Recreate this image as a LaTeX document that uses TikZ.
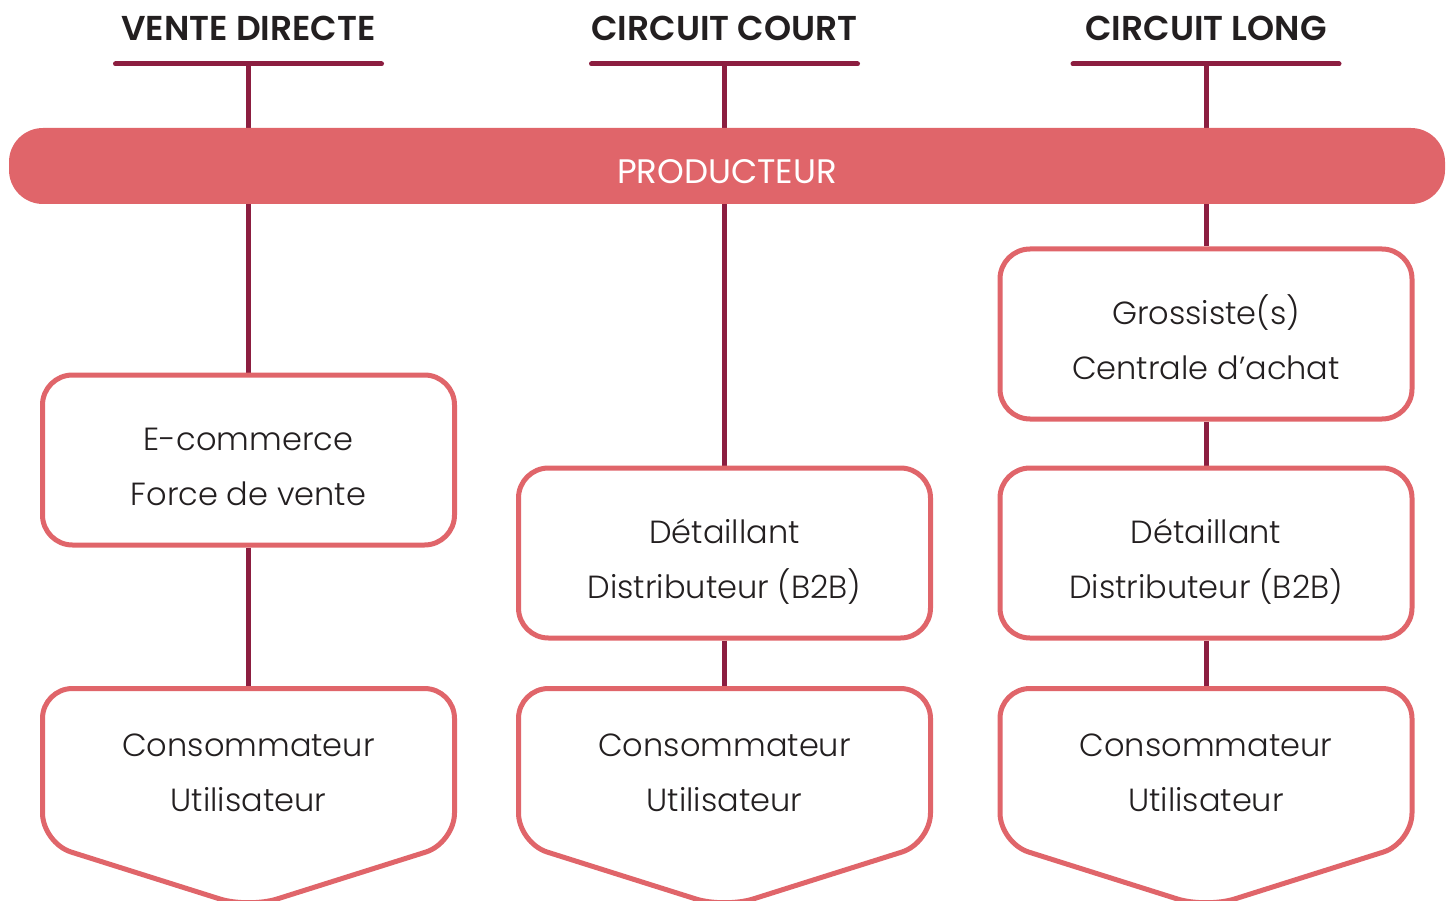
\documentclass[tikz,border=0pt]{standalone}
\usepackage{fontspec}
\setmainfont{Poppins}[UprightFont=* Light, BoldFont=* SemiBold]
\newfontfamily\barfont{Poppins}
\usetikzlibrary{backgrounds,calc}

\definecolor{coral}{HTML}{E0656A}
\definecolor{wine}{HTML}{8C1E40}
\definecolor{ink}{HTML}{231F20}

% even line metrics for every two-line label
\newcommand{\evenline}{\vphantom{(É}}

\tikzset{
  header/.style={font=\fontsize{34.5}{40}\selectfont\bfseries, text=ink, inner sep=0pt},
  rule/.style={wine, line width=5pt, line cap=round},
  link/.style={wine, line width=5pt},
  stage/.style={draw=coral, line width=5pt, fill=white, rounded corners=30pt,
    minimum width=412pt, minimum height=170pt},
  stagetext/.style={align=center, inner sep=0pt,
    font=\fontsize{32}{55}\selectfont, text=ink},
  bar/.style={fill=coral, rounded corners=34pt, minimum width=1436pt,
    minimum height=76pt},
  bartext/.style={text=white, inner sep=0pt, font=\barfont\fontsize{34}{40}\selectfont},
  endbox/.style={draw=coral, line width=5pt, fill=white, rounded corners=30pt},
}

\begin{document}
\begin{tikzpicture}[x=1pt, y=-1pt]
  \useasboundingbox (0,0) rectangle (1453,901);
  \clip (0,0) rectangle (1453,901);

  % channel headings with their rules
  \node[header] (h1) at (248.5,28) {VENTE DIRECTE};
  \node[header] (h2) at (724.5,28) {CIRCUIT COURT};
  \node[header] (h3) at (1206,28) {CIRCUIT LONG};
  \coordinate (r1) at (248.5,64);
  \coordinate (r2) at (724.5,64);
  \coordinate (r3) at (1206,64);
  \foreach \r in {r1,r2,r3}
    \draw[rule] ($(\r)+(-133,0)$) -- ($(\r)+(133,0)$);

  % producer bar
  \node[bar] (prod) at (727,166) {};
  \node[bartext] (prodtxt) at ($(prod)+(0,6)$) {PRODUCTEUR};

  % intermediary stages
  \node[stage] (ecom) at (248.5,460) {};
  \node[stage] (det2) at (724.5,553) {};
  \node[stage] (gros) at (1206,334) {};
  \node[stage] (det3) at (1206,553) {};
  \node[stagetext] (ecomtxt) at ($(ecom)+(0,6)$)
    {\evenline E-commerce\\\evenline Force de vente};
  \node[stagetext] (det2txt) at ($(det2)+(0,6)$)
    {\evenline Détaillant\\\evenline Distributeur (B2B)};
  \node[stagetext] (grostxt) at ($(gros)+(0,6)$)
    {\evenline Grossiste(s)\\\evenline Centrale d’achat};
  \node[stagetext] (det3txt) at ($(det3)+(0,6)$)
    {\evenline Détaillant\\\evenline Distributeur (B2B)};

  % end customers: downward pointing boxes
  \foreach \cx/\n in {248.5/c1, 724.5/c2, 1206/c3} {
    \coordinate (\n top) at (\cx,688.5);
    \draw[endbox] (\cx,688.5) -- (\cx+206,688.5) -- (\cx+206,843)
      -- (\cx,908) -- (\cx-206,843) -- (\cx-206,688.5) -- cycle;
    \node[stagetext] (\n) at (\cx,772)
      {\evenline Consommateur\\\evenline Utilisateur};
  }

  % connectors behind everything
  \begin{scope}[on background layer]
    \draw[link] (r1) -- (ecom.north);
    \draw[link] (ecom.south) -- (c1top);
    \draw[link] (r2) -- (det2.north);
    \draw[link] (det2.south) -- (c2top);
    \draw[link] (r3) -- (gros.north);
    \draw[link] (gros.south) -- (det3.north);
    \draw[link] (det3.south) -- (c3top);
  \end{scope}
\end{tikzpicture}
\end{document}
